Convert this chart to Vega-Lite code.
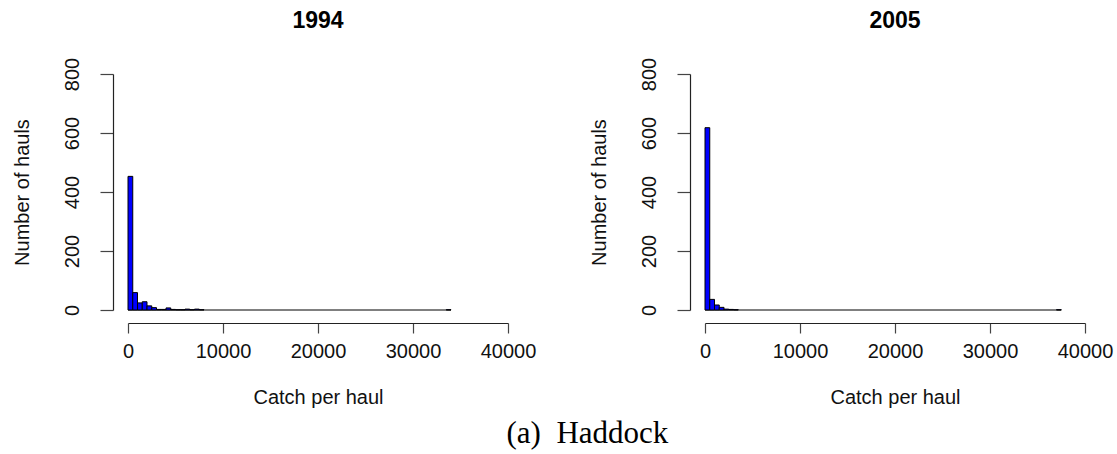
{
  "$schema": "https://vega.github.io/schema/vega-lite/v6.json",
  "padding": {"left": 12, "top": 10, "right": 5, "bottom": 5},
  "datasets": {
    "h1994": [
      {"start": 0, "end": 500, "count": 453},
      {"start": 500, "end": 1000, "count": 59},
      {"start": 1000, "end": 1500, "count": 24},
      {"start": 1500, "end": 2000, "count": 28},
      {"start": 2000, "end": 2500, "count": 14},
      {"start": 2500, "end": 3000, "count": 8},
      {"start": 3000, "end": 3500, "count": 2},
      {"start": 3500, "end": 4000, "count": 2},
      {"start": 4000, "end": 4500, "count": 7},
      {"start": 4500, "end": 5000, "count": 2},
      {"start": 5000, "end": 5500, "count": 1},
      {"start": 5500, "end": 6000, "count": 1},
      {"start": 6000, "end": 6500, "count": 3},
      {"start": 6500, "end": 7000, "count": 1},
      {"start": 7000, "end": 7500, "count": 3},
      {"start": 7500, "end": 8000, "count": 1},
      {"start": 33500, "end": 34000, "count": 1}
    ],
    "h2005": [
      {"start": 0, "end": 500, "count": 618},
      {"start": 500, "end": 1000, "count": 36},
      {"start": 1000, "end": 1500, "count": 17},
      {"start": 1500, "end": 2000, "count": 9},
      {"start": 2000, "end": 2500, "count": 3},
      {"start": 2500, "end": 3000, "count": 2},
      {"start": 3000, "end": 3500, "count": 1},
      {"start": 37000, "end": 37500, "count": 1}
    ],
    "b1994": [{"start": 0, "end": 34000}],
    "b2005": [{"start": 0, "end": 37500}]
  },
  "title": {
    "text": "(a)\u00a0 Haddock",
    "orient": "bottom",
    "anchor": "middle",
    "font": "Liberation Serif",
    "fontSize": 31,
    "fontWeight": "normal",
    "color": "black",
    "offset": 12,
    "dx": 25
  },
  "bounds": "flush",
  "spacing": 197,
  "hconcat": [
    {
      "title": {"text": "1994"},
      "width": 380,
      "height": 236,
      "layer": [
        {
          "data": {"name": "b1994"},
          "mark": {"type": "rule", "color": "black", "strokeWidth": 1},
          "encoding": {
            "x": {"field": "start", "type": "quantitative", "title": "Catch per haul", "scale": {"domain": [0, 40000], "nice": false, "zero": false}, "axis": {"values": [0, 10000, 20000, 30000, 40000], "format": "d"}},
            "x2": {"field": "end"},
            "y": {"datum": 0, "type": "quantitative", "title": "Number of hauls", "scale": {"domain": [0, 800], "nice": false}, "axis": {"values": [0, 200, 400, 600, 800], "format": "d"}}
          }
        },
        {
          "data": {"name": "h1994"},
          "mark": {"type": "bar", "fill": "#0000FF", "stroke": "black", "strokeWidth": 1},
          "encoding": {
            "x": {"field": "start", "type": "quantitative", "title": "Catch per haul"},
            "x2": {"field": "end"},
            "y": {"field": "count", "type": "quantitative", "title": "Number of hauls"},
            "y2": {"datum": 0}
          }
        }
      ]
    },
    {
      "title": {"text": "2005"},
      "width": 380,
      "height": 236,
      "layer": [
        {
          "data": {"name": "b2005"},
          "mark": {"type": "rule", "color": "black", "strokeWidth": 1},
          "encoding": {
            "x": {"field": "start", "type": "quantitative", "title": "Catch per haul", "scale": {"domain": [0, 40000], "nice": false, "zero": false}, "axis": {"values": [0, 10000, 20000, 30000, 40000], "format": "d"}},
            "x2": {"field": "end"},
            "y": {"datum": 0, "type": "quantitative", "title": "Number of hauls", "scale": {"domain": [0, 800], "nice": false}, "axis": {"values": [0, 200, 400, 600, 800], "format": "d"}}
          }
        },
        {
          "data": {"name": "h2005"},
          "mark": {"type": "bar", "fill": "#0000FF", "stroke": "black", "strokeWidth": 1},
          "encoding": {
            "x": {"field": "start", "type": "quantitative", "title": "Catch per haul"},
            "x2": {"field": "end"},
            "y": {"field": "count", "type": "quantitative", "title": "Number of hauls"},
            "y2": {"datum": 0}
          }
        }
      ]
    }
  ],
  "config": {
    "view": {"stroke": null},
    "font": "Liberation Sans",
    "title": {"font": "Liberation Sans", "fontSize": 23, "fontWeight": "bold", "color": "black", "anchor": "middle", "offset": 24},
    "axis": {
      "grid": false,
      "domainColor": "#222",
      "tickColor": "#444",
      "domainWidth": 1.2,
      "tickWidth": 1.2,
      "labelFont": "Liberation Sans",
      "labelFontSize": 20,
      "labelColor": "#111",
      "titleFont": "Liberation Sans",
      "titleFontSize": 20,
      "titleFontWeight": "normal",
      "titleColor": "#111"
    },
    "axisX": {
      "offset": 13,
      "tickSize": 10,
      "labelPadding": 8,
      "titlePadding": 26,
      "labelFlush": false,
      "labelOverlap": false
    },
    "axisY": {
      "offset": 15,
      "tickSize": 13,
      "labelAngle": -90,
      "labelAlign": "center",
      "labelBaseline": "bottom",
      "labelPadding": 18,
      "titlePadding": 30,
      "labelFlush": false,
      "labelOverlap": false
    }
  }
}
